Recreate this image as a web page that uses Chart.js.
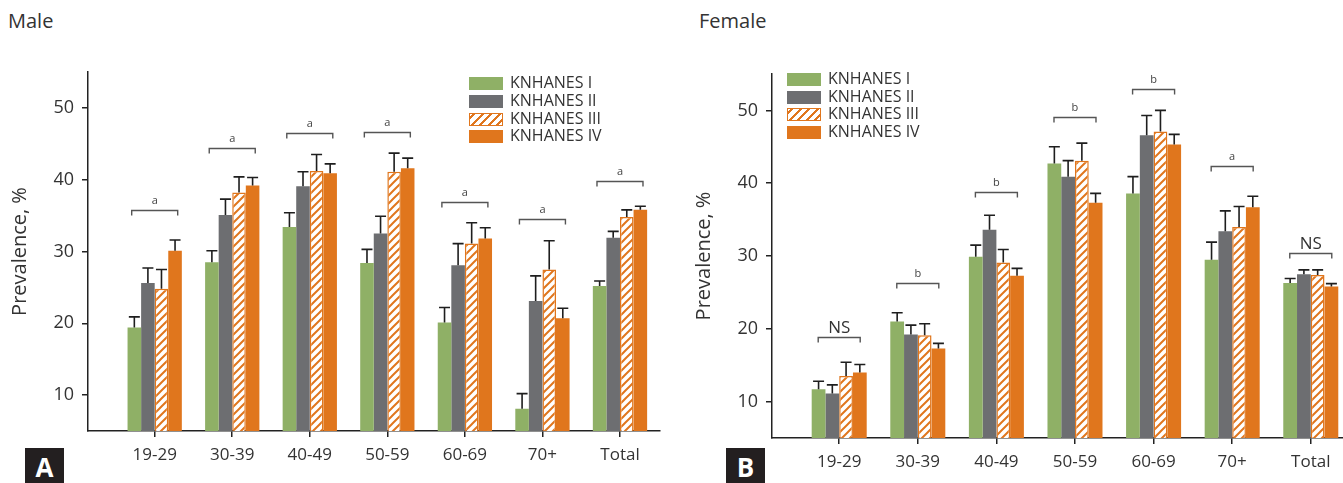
<!DOCTYPE html>
<html>
<head>
<meta charset="utf-8">
<script src="https://cdn.jsdelivr.net/npm/chart.js@4.4.1/dist/chart.umd.min.js"></script>
<style>
  html, body { margin: 0; padding: 0; background: #fff; }
  body { width: 1343px; height: 483px; position: relative; overflow: hidden; font-family: "Open Sans", sans-serif; color: #333; }
  .wrap { position: absolute; }
  .title { position: absolute; font-size: 20px; color: #333; top: 7px; }
  .panel { position: absolute; background: #231f20; color: #fff; font-weight: bold; font-size: 26px; width: 39px; height: 36px; line-height: 38px; text-align: center; top: 448px; }
  .legend { position: absolute; font-size: 16px; color: #333; }
  .legend .row { position: absolute; left: 0; height: 17px; white-space: nowrap; }
  .legend .box { position: absolute; left: 0; top: 2px; width: 34px; height: 13px; box-sizing: border-box; }
  .legend .txt { position: absolute; top: -3px; line-height: 20px; }
</style>
</head>
<body>
<div class="title" style="left:8px;">Male</div>
<div class="title" style="left:699px;">Female</div>
<div class="wrap" style="left:0;top:40px;width:680px;height:443px;"><canvas id="male"></canvas></div>
<div class="wrap" style="left:680px;top:40px;width:663px;height:443px;"><canvas id="female"></canvas></div>
<div class="panel" style="left:25px;">A</div>
<div class="panel" style="left:726px;">B</div>
<div id="legMale" class="legend" style="left:469px;top:75px;"></div>
<div id="legFemale" class="legend" style="left:787px;top:71px;"></div>
<script>
// ---- data ----
const categories = ['19-29', '30-39', '40-49', '50-59', '60-69', '70+', 'Total'];
const seriesNames = ['KNHANES I', 'KNHANES II', 'KNHANES III', 'KNHANES IV'];

const maleI      = [19.4, 28.5, 33.4, 28.4, 20.1, 8.1, 25.2];
const maleIErr   = [20.9, 30.1, 35.4, 30.3, 22.2, 10.2, 25.9];
const maleII     = [25.6, 35.1, 39.1, 32.5, 28.1, 23.1, 31.9];
const maleIIErr  = [27.7, 37.3, 41.1, 34.9, 31.1, 26.6, 32.8];
const maleIII    = [24.8, 38.2, 41.2, 41.1, 31.1, 27.5, 34.8];
const maleIIIErr = [27.5, 40.4, 43.5, 43.7, 34.0, 31.5, 35.8];
const maleIV     = [30.1, 39.2, 40.9, 41.6, 31.8, 20.7, 35.8];
const maleIVErr  = [31.6, 40.3, 42.2, 43.0, 33.3, 22.1, 36.3];
const maleBracket = [35.8, 44.4, 46.5, 46.7, 36.9, 34.5, 39.8];
const maleSig     = ['a', 'a', 'a', 'a', 'a', 'a', 'a'];

const femaleI      = [11.7, 21.0, 29.9, 42.7, 38.6, 29.5, 26.3];
const femaleIErr   = [12.8, 22.2, 31.5, 45.0, 40.9, 31.9, 26.9];
const femaleII     = [11.1, 19.2, 33.6, 40.9, 46.6, 33.4, 27.5];
const femaleIIErr  = [12.3, 20.5, 35.6, 43.1, 49.3, 36.2, 28.1];
const femaleIII    = [13.5, 19.1, 29.1, 43.1, 47.1, 34.0, 27.4];
const femaleIIIErr = [15.4, 20.7, 30.9, 45.5, 50.0, 36.8, 28.1];
const femaleIV     = [14.0, 17.3, 27.3, 37.3, 45.3, 36.7, 25.8];
const femaleIVErr  = [15.1, 18.0, 28.3, 38.6, 46.7, 38.2, 26.2];
const femaleBracket = [18.9, 26.3, 38.8, 49.1, 53.0, 42.3, 30.4];
const femaleSig     = ['NS', 'b', 'b', 'b', 'b', 'a', 'NS'];

const yTicks = [10, 20, 30, 40, 50];

// ---- styles ----
const GREEN = '#8fb066';
const GRAY = '#6d6e71';
const ORANGE = '#e0761d';
const AXIS = '#222';

function hatchPattern() {
  const c = document.createElement('canvas');
  c.width = 8; c.height = 8;
  const g = c.getContext('2d');
  g.fillStyle = '#fff';
  g.fillRect(0, 0, 8, 8);
  g.strokeStyle = ORANGE;
  g.lineWidth = 2;
  g.beginPath();
  g.moveTo(-1, 9); g.lineTo(9, -1);
  g.moveTo(-5, 5); g.lineTo(5, -5);
  g.moveTo(3, 13); g.lineTo(13, 3);
  g.stroke();
  return g.createPattern(c, 'repeat');
}
const HATCH = hatchPattern();

const errorBarPlugin = {
  id: 'errorBars',
  afterDatasetsDraw(chart, args, opts) {
    const ctx = chart.ctx;
    const y = chart.scales.y;
    ctx.save();
    ctx.strokeStyle = '#1e1e1e';
    ctx.lineWidth = 1.6;
    chart.data.datasets.forEach((ds, di) => {
      const meta = chart.getDatasetMeta(di);
      meta.data.forEach((bar, i) => {
        const top = y.getPixelForValue(ds.errTop[i]);
        ctx.beginPath();
        ctx.moveTo(bar.x, bar.y);
        ctx.lineTo(bar.x, top);
        ctx.moveTo(bar.x - 5.5, top);
        ctx.lineTo(bar.x + 5.5, top);
        ctx.stroke();
      });
    });
    ctx.restore();
  }
};

const bracketPlugin = {
  id: 'brackets',
  afterDatasetsDraw(chart, args, opts) {
    const ctx = chart.ctx;
    const x = chart.scales.x, y = chart.scales.y;
    ctx.save();
    ctx.strokeStyle = '#555';
    ctx.lineWidth = 1.4;
    ctx.textAlign = 'center';
    ctx.textBaseline = 'alphabetic';
    opts.levels.forEach((lv, i) => {
      const cx = x.getPixelForValue(i);
      const py = Math.round(y.getPixelForValue(lv)) + 0.5;
      const hw = opts.halfWidth;
      ctx.beginPath();
      ctx.moveTo(cx - hw, py + 5);
      ctx.lineTo(cx - hw, py);
      ctx.lineTo(cx + hw, py);
      ctx.lineTo(cx + hw, py + 5);
      ctx.stroke();
      const label = opts.labels[i];
      if (label === 'NS') {
        ctx.font = '17px "Open Sans"';
        ctx.fillStyle = '#333';
        ctx.fillText(label, cx, py - 5);
      } else {
        ctx.font = '11px "Open Sans"';
        ctx.fillStyle = '#444';
        ctx.fillText(label, cx, py - 7);
      }
    });
    ctx.restore();
  }
};

function makeChart(id, sets, errs, levels, sigs, geo) {
  const colors = [GREEN, GRAY, HATCH, ORANGE];
  const datasets = sets.map((vals, k) => ({
    label: seriesNames[k],
    data: vals.map((v, i) => ({ x: i, y: v })),
    errTop: errs[k],
    backgroundColor: colors[k],
    borderColor: k === 2 ? ORANGE : colors[k],
    borderWidth: k === 2 ? 1.5 : 0,
    borderSkipped: k === 2 ? 'bottom' : 'start',
    categoryPercentage: 0.70,
    barPercentage: 1.0
  }));
  return new Chart(document.getElementById(id), {
    type: 'bar',
    data: { datasets },
    plugins: [errorBarPlugin, bracketPlugin],
    options: {
      responsive: true,
      maintainAspectRatio: false,
      animation: false,
      layout: { padding: { top: geo.padTop, right: geo.padRight, left: 0, bottom: 0 } },
      plugins: {
        legend: { display: false },
        tooltip: { enabled: false },
        brackets: { levels, labels: sigs, halfWidth: geo.bracketHalf }
      },
      scales: {
        x: {
          type: 'linear',
          min: geo.xMin, max: geo.xMax,
          offset: false,
          afterBuildTicks: s => { s.ticks = categories.map((c, i) => ({ value: i })); },
          afterFit: s => { s.height = geo.xHeight; },
          ticks: {
            autoSkip: false, maxRotation: 0,
            padding: 8,
            color: '#333',
            font: { family: 'Open Sans', size: 17 },
            callback: v => categories[v] ?? ''
          },
          grid: { display: true, drawOnChartArea: false, drawTicks: true, tickLength: 6, color: AXIS, lineWidth: 1.5, offset: false },
          border: { display: true, color: AXIS, width: 1.5 }
        },
        y: {
          min: 5, max: 55,
          afterBuildTicks: s => { s.ticks = yTicks.map(v => ({ value: v })); },
          afterFit: s => { s.width = geo.yWidth; },
          ticks: { padding: 8, color: '#333', font: { family: 'Open Sans', size: 18 } },
          grid: { display: true, drawOnChartArea: false, drawTicks: true, tickLength: 6, color: AXIS, lineWidth: 1.5 },
          border: { display: true, color: AXIS, width: 1.5 },
          title: {
            display: true, text: 'Prevalence, %', color: '#333',
            font: { family: 'Open Sans', size: 20 },
            padding: { top: geo.titlePad, bottom: 0 }
          }
        }
      }
    }
  });
}

makeChart('male',
  [maleI, maleII, maleIII, maleIV],
  [maleIErr, maleIIErr, maleIIIErr, maleIVErr],
  maleBracket, maleSig,
  { padTop: 32, padRight: 20, yWidth: 88, xHeight: 52, xMin: -0.86, xMax: 6.516, bracketHalf: 23, titlePad: 8 });

makeChart('female',
  [femaleI, femaleII, femaleIII, femaleIV],
  [femaleIErr, femaleIIErr, femaleIIIErr, femaleIVErr],
  femaleBracket, femaleSig,
  { padTop: 34, padRight: 0, yWidth: 92, xHeight: 45, xMin: -0.855, xMax: 6.41, bracketHalf: 21, titlePad: 12 });

// ---- legends (HTML) ----
function buildLegend(elId, rowTops) {
  const el = document.getElementById(elId);
  const styles = [
    'background:' + GREEN,
    'background:' + GRAY,
    'background:repeating-linear-gradient(135deg,#fff 0 2px,' + ORANGE + ' 2px 4px,#fff 4px 6px);border:1.5px solid ' + ORANGE,
    'background:' + ORANGE
  ];
  seriesNames.forEach((n, k) => {
    const row = document.createElement('div');
    row.className = 'row';
    row.style.top = rowTops[k] + 'px';
    row.innerHTML = '<div class="box" style="' + styles[k] + '"></div><div class="txt" style="left:41px;">' + n + '</div>';
    el.appendChild(row);
  });
}
buildLegend('legMale', [0, 17.5, 35.5, 52.5]);
buildLegend('legFemale', [0, 17.5, 35, 53]);
</script>
</body>
</html>
